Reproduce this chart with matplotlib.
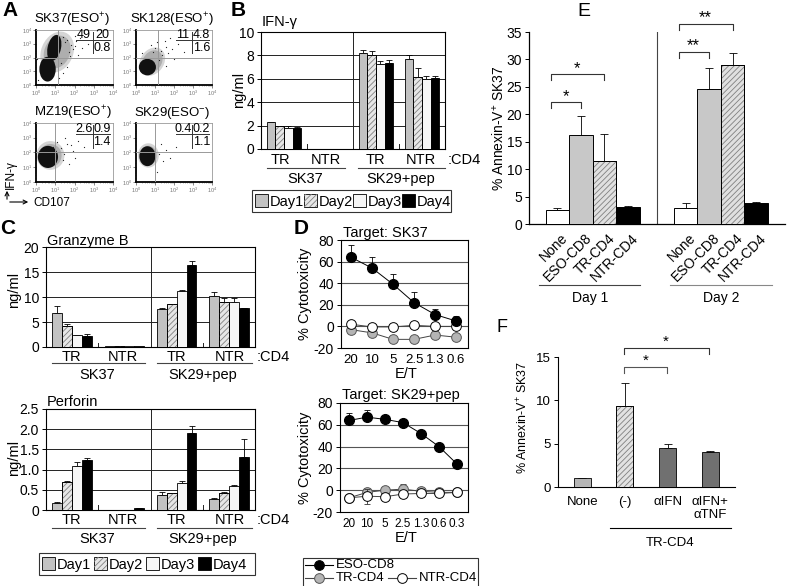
import matplotlib
matplotlib.use('Agg')
import matplotlib.pyplot as plt
from matplotlib.patches import Rectangle, Ellipse, FancyArrowPatch
from matplotlib.lines import Line2D

plt.rcParams['font.family'] = ['Liberation Sans', 'DejaVu Sans']
plt.rcParams['mathtext.fontset'] = 'custom'
plt.rcParams['mathtext.rm'] = 'Liberation Sans'
plt.rcParams['mathtext.it'] = 'Liberation Sans:italic'
plt.rcParams['mathtext.bf'] = 'Liberation Sans:bold'
plt.rcParams['hatch.linewidth'] = 0.6

# ---------------- data ----------------
# A: flow cytometry
flow_titles = ['SK37(ESO$^{+}$)', 'SK128(ESO$^{+}$)', 'MZ19(ESO$^{+}$)', 'SK29(ESO$^{-}$)']
flow_ul = ['49', '11', '2.6', '0.4']
flow_ur = ['20', '4.8', '0.9', '0.2']
flow_lr = ['0.8', '1.6', '1.4', '1.1']
flow_gate_x = [1.15, 1.15, 1.0, 1.0]
flow_gate_y = [2.0, 2.0, 2.0, 2.0]
flow_core = [
    [(0.6, 1.15, 0.85, 1.8, 0), (0.95, 2.7, 0.7, 1.9, -8)],
    [(0.6, 1.3, 0.9, 1.2, 0)],
    [(0.62, 1.7, 1.05, 1.5, 0)],
    [(0.6, 1.75, 0.85, 1.35, 0)],
]
flow_halo = [
    [(1.1, 2.4, 1.7, 3.0, -10)],
    [(0.85, 1.7, 1.3, 2.1, -15)],
    [(0.75, 1.8, 1.45, 1.95, 0)],
    [(0.65, 1.8, 1.1, 1.65, 0)],
]
flow_sparse_x = [
    [1.5, 1.8, 2.1, 1.4, 2.4, 1.7, 2.0, 1.3, 2.2, 1.6, 0.1, 0.05, 1.4, 2.7, 1.2, 1.9, 1.6, 2.3, 1.75, 2.05],
    [0.9, 1.0, 0.8, 1.3, 1.6, 1.9, 2.2, 1.5, 2.5, 1.2, 1.6, 2.0, 0.3, 1.1, 1.8, 1.35, 1.7],
    [1.3, 1.6, 1.9, 2.2, 1.4, 1.7, 1.1, 2.5, 0.2, 1.5, 2.0, 0.9, 1.45, 1.8],
    [1.2, 1.4, 1.6, 0.3, 1.8, 1.1, 2.1, 1.3],
]
flow_sparse_y = [
    [3.1, 2.9, 3.2, 3.5, 2.7, 2.4, 3.6, 1.6, 2.2, 1.3, 0.4, 1.9, 0.9, 3.0, 0.5, 2.6, 3.3, 3.4, 2.1, 2.85],
    [2.4, 2.7, 2.9, 2.5, 2.8, 2.6, 3.0, 3.2, 2.4, 1.8, 1.4, 1.9, 2.3, 3.1, 3.4, 2.2, 2.35],
    [2.3, 2.6, 2.1, 2.8, 1.5, 1.2, 2.7, 2.4, 2.2, 3.0, 1.6, 2.4, 1.9, 2.5],
    [1.9, 1.4, 2.2, 2.0, 1.6, 0.7, 2.4, 2.6],
]

# B/C: cytokine secretion, per day over groups [TR-SK37, NTR-SK37, TR-SK29+pep, NTR-SK29+pep]
day_labels = ['Day1', 'Day2', 'Day3', 'Day4']
cd4_groups = ['TR', 'NTR', 'TR', 'NTR']
target_labels = ['SK37', 'SK29+pep']
ifng_mean = [[2.3, 0, 8.2, 7.7], [1.95, 0, 8.0, 6.15], [1.8, 0, 7.25, 6.0], [1.8, 0, 7.35, 6.1]]
ifng_err = [[0.05, 0, 0.3, 0.3], [0.05, 0, 0.35, 0.75], [0.2, 0, 0.3, 0.25], [0.05, 0, 0.25, 0.1]]
gzmb_mean = [[6.8, 0.25, 7.6, 10.2], [4.2, 0.3, 8.6, 9.0], [2.4, 0.12, 11.2, 9.0], [2.2, 0.3, 16.4, 7.8]]
gzmb_err = [[1.4, 0, 0.2, 0.9], [0.5, 0, 0.1, 0.8], [0.05, 0, 0.15, 0.8], [0.4, 0, 0.8, 0.1]]
prf_mean = [[0.17, 0, 0.37, 0.27], [0.7, 0, 0.42, 0.42], [1.09, 0, 0.66, 0.59], [1.24, 0.05, 1.9, 1.31]]
prf_err = [[0.04, 0, 0.07, 0.02], [0.01, 0, 0.01, 0.02], [0.1, 0, 0.06, 0.03], [0.05, 0.01, 0.18, 0.44]]

# D: cytotoxicity
et_sk37 = ['20', '10', '5', '2.5', '1.3', '0.6']
cyt37_eso = [64, 54, 39, 22, 11, 5]
cyt37_eso_err = [11, 10, 9.5, 10, 5, 5]
cyt37_tr = [-3, -6, -12, -12, -8, -10]
cyt37_tr_err = [2, 3, 1, 1, 1, 1]
cyt37_ntr = [2, -0.5, -0.5, 1, 0, 0]
cyt37_ntr_err = [1, 1, 1, 1, 1, 1]
et_sk29 = ['20', '10', '5', '2.5', '1.3', '0.6', '0.3']
cyt29_eso = [64, 67, 65, 62, 52, 40, 24]
cyt29_eso_err = [7, 7, 1, 1, 1, 1, 1]
cyt29_tr = [-7, -2, 0, 1, -1, -2, -2]
cyt29_tr_err = [2, 4, 3, 5, 2, 2, 2]
cyt29_ntr = [-7, -5.5, -6, -3.5, -3, -3, -2]
cyt29_ntr_err = [3, 7, 2, 3, 2, 2, 2]

# E: annexin-V
e_groups = ['None', 'ESO-CD8', 'TR-CD4', 'NTR-CD4']
e_day1 = [2.55, 16.3, 11.4, 3.15]
e_day1_err = [0.3, 3.4, 5.0, 0.05]
e_day2 = [2.9, 24.7, 29.0, 3.9]
e_day2_err = [1.0, 3.8, 2.2, 0.1]

# F: blocking
f_labels = ['None', '(-)', 'αIFN', 'αIFN+\nαTNF']
f_vals = [1.04, 9.3, 4.5, 4.05]
f_err = [0.05, 2.65, 0.45, 0.1]

# ---------------- helpers ----------------
W, H = 787, 586
fig = plt.figure(figsize=(W / 100, H / 100), dpi=100)


def add_ax(x0, y0, x1, y1):
    return fig.add_axes([x0 / W, 1 - y1 / H, (x1 - x0) / W, (y1 - y0) / H])


def ftext(x, y, s, **kw):
    kw.setdefault('ha', 'center')
    kw.setdefault('va', 'center')
    fig.text(x / W, 1 - y / H, s, **kw)


def fline(xs, ys, **kw):
    kw.setdefault('color', 'black')
    kw.setdefault('lw', 0.8)
    fig.add_artist(Line2D([x / W for x in xs], [1 - y / H for y in ys], **kw))


DAY_FACE = ['#c2c2c2', '#e6e6e6', '#f6f6f6', '#000000']
DAY_HATCH = [None, '//////', None, None]


def bar(ax, x, h, w, face, hatch=None, err=None, capsize=2, lw=0.6):
    ax.bar(x, h, w, color=face, edgecolor='black', linewidth=lw, zorder=3)
    if hatch:
        ax.bar(x, h, w, color='none', edgecolor='#808080', hatch=hatch, linewidth=0, zorder=3.5)
        ax.bar(x, h, w, color='none', edgecolor='black', linewidth=lw, zorder=4)
    if err:
        ax.errorbar([x], [h], yerr=[[0], [err]], fmt='none', ecolor='black',
                    elinewidth=0.6, capsize=capsize, capthick=0.6, zorder=2.5)


def day_bar_axes(box, means, errs, ylim, yticks, yticklabels, grid):
    ax = add_ax(*box)
    ax.set_xlim(0, 4)
    ax.set_ylim(*ylim)
    ax.set_xticks([])
    ax.set_yticks(yticks)
    ax.set_yticklabels(yticklabels, fontsize=10)
    ax.tick_params(axis='y', length=3, width=0.7, pad=2)
    for g in grid:
        ax.axhline(g, color='#222222', lw=0.7, zorder=1)
    ax.axvline(2.0, color='#222222', lw=0.7, zorder=1)
    for b in (1.0, 3.0):
        ax.plot([b, b], [ylim[0], ylim[0] + (ylim[1] - ylim[0]) * 0.045], color='#222222', lw=0.7)
    for s in ax.spines.values():
        s.set_linewidth(0.8)
    centers = [0.5, 1.5, 2.5, 3.5]
    width = 0.19
    for d in range(4):
        for g in range(4):
            x = centers[g] + (d - 1.5) * width
            if means[d][g] > 0:
                bar(ax, x, means[d][g], width, DAY_FACE[d], DAY_HATCH[d], errs[d][g])
    return ax


def group_labels(xs, y_row, line_spans, y_line, tgt_xs, y_tgt, cd4_x):
    for x, lab in zip(xs, cd4_groups):
        ftext(x, y_row, lab, fontsize=10.5)
    ftext(cd4_x, y_row, ':CD4', fontsize=10.5, ha='left')
    for (a, b) in line_spans:
        fline([a, b], [y_line, y_line], lw=0.8, color='#444444')
    for x, lab in zip(tgt_xs, target_labels):
        ftext(x, y_tgt, lab, fontsize=10.5)


def day_legend(x0, y0, spacing, right, hgt=22):
    fig.add_artist(Rectangle((x0 / W, 1 - (y0 + hgt) / H), (right - x0) / W, hgt / H,
                             transform=fig.transFigure, facecolor='white', edgecolor='#333333', lw=0.8))
    for d in range(4):
        hx = x0 + 3 + d * spacing
        hy = y0 + 4
        fig.add_artist(Rectangle((hx / W, 1 - (hy + 13) / H), 13 / W, 13 / H, transform=fig.transFigure,
                                 facecolor=DAY_FACE[d], edgecolor='black', lw=0.6))
        if DAY_HATCH[d]:
            fig.add_artist(Rectangle((hx / W, 1 - (hy + 13) / H), 13 / W, 13 / H, transform=fig.transFigure,
                                     facecolor='none', edgecolor='#808080', lw=0, hatch=DAY_HATCH[d]))
        ftext(hx + 15, y0 + hgt / 2 + 1, day_labels[d], fontsize=10.5, ha='left')


# ---------------- panel letters ----------------
ftext(10, 11, 'A', fontsize=15, fontweight='bold')
ftext(238, 11, 'B', fontsize=15, fontweight='bold')
ftext(8, 229, 'C', fontsize=15, fontweight='bold')
ftext(301, 229, 'D', fontsize=15, fontweight='bold')
ftext(584, 11, 'E', fontsize=14)
ftext(502, 328, 'F', fontsize=13)

# ---------------- A ----------------
flow_boxes = [(36, 30, 113, 85), (136, 30, 212, 85), (36, 123, 113, 182), (136, 123, 212, 182)]
for i, box in enumerate(flow_boxes):
    ax = add_ax(*box)
    ax.set_xlim(0, 4)
    ax.set_ylim(0, 4)
    for (cx, cy, w, h, ang) in flow_halo[i]:
        ax.add_patch(Ellipse((cx, cy), w, h, angle=ang, facecolor='#777777', edgecolor='none', alpha=0.3, zorder=1))
        ax.add_patch(Ellipse((cx, cy), w * 0.8, h * 0.8, angle=ang, facecolor='#555555', edgecolor='none',
                             alpha=0.3, zorder=1))
    for (cx, cy, w, h, ang) in flow_core[i]:
        ax.add_patch(Ellipse((cx, cy), w, h, angle=ang, facecolor='#111111', edgecolor='none', zorder=2))
    ax.scatter(flow_sparse_x[i], flow_sparse_y[i], s=0.8, color='#222222', zorder=2, linewidths=0)
    ax.axvline(flow_gate_x[i], color='#999999', lw=0.7, zorder=3)
    ax.axhline(flow_gate_y[i], color='#999999', lw=0.7, zorder=3)
    ticks = [0, 1, 2, 3, 4]
    labs = ['$10^{%d}$' % t for t in ticks]
    ax.set_xticks(ticks)
    ax.set_xticklabels(labs, fontsize=4, color='#777777')
    ax.set_yticks(ticks)
    ax.set_yticklabels(labs, fontsize=4, color='#777777')
    minor = [k + m for k in range(4) for m in (0.301, 0.477, 0.602, 0.699, 0.778, 0.845, 0.903, 0.954)]
    ax.set_xticks(minor, minor=True)
    ax.set_yticks(minor, minor=True)
    ax.tick_params(which='major', length=2, width=0.5, pad=1, color='#555555')
    ax.tick_params(which='minor', length=1, width=0.4, color='#777777')
    ax.spines['left'].set_linewidth(1.3)
    ax.spines['bottom'].set_linewidth(1.3)
    ax.spines['top'].set_color('#999999')
    ax.spines['right'].set_color('#999999')
    ax.spines['top'].set_linewidth(0.6)
    ax.spines['right'].set_linewidth(0.6)
    # percent annotation
    ax.plot([0.52, 0.96], [0.82, 0.82], transform=ax.transAxes, color='#333333', lw=0.7, zorder=4)
    ax.plot([0.74, 0.74], [0.97, 0.58], transform=ax.transAxes, color='#333333', lw=0.7, zorder=4)
    ax.text(0.62, 0.9, flow_ul[i], transform=ax.transAxes, fontsize=9, ha='center', va='center', zorder=5)
    ax.text(0.86, 0.9, flow_ur[i], transform=ax.transAxes, fontsize=9, ha='center', va='center', zorder=5)
    ax.text(0.86, 0.68, flow_lr[i], transform=ax.transAxes, fontsize=9, ha='center', va='center', zorder=5)
    tx = (box[0] + box[2]) / 2 - 2
    ftext(tx, box[1] - 10, flow_titles[i], fontsize=9.5)

# axis arrows
fig.add_artist(FancyArrowPatch((7 / W, 1 - 202 / H), (7 / W, 1 - 188 / H),
                               transform=fig.transFigure, arrowstyle='->', mutation_scale=7, lw=0.8))
fig.add_artist(FancyArrowPatch((7 / W, 1 - 202 / H), (31 / W, 1 - 202 / H),
                               transform=fig.transFigure, arrowstyle='->', mutation_scale=7, lw=0.8))
ftext(11, 175, 'IFN-γ', fontsize=8.5, rotation=90)
ftext(33, 203, 'CD107', fontsize=8.5, ha='left')

# ---------------- B ----------------
axB = day_bar_axes((261, 32, 445, 149), ifng_mean, ifng_err, (0, 10), [0, 2, 4, 6, 8, 10],
                   ['0', '2', '4', '6', '8', '10'], [2, 4, 6, 8])
ftext(262, 22, 'IFN-γ', fontsize=10.5, ha='left')
ftext(239, 90, 'ng/ml', fontsize=10.5, rotation=90)
group_labels([280, 326, 375, 421], 160, [(267, 345), (358, 445)], 168, [305, 401], 179, 448)
day_legend(252, 190, 49, 451)

# ---------------- C ----------------
axC1 = day_bar_axes((46, 247, 255, 347), gzmb_mean, gzmb_err, (0, 20), [0, 5, 10, 15, 20],
                    ['0', '5', '10', '15', '20'], [5, 10, 15])
ftext(47, 241, 'Granzyme B', fontsize=10.5, ha='left')
ftext(14, 290, 'ng/ml', fontsize=10.5, rotation=90)
group_labels([71, 123, 176, 230], 357, [(52, 145), (157, 252)], 363, [97, 203], 375, 257)

axC2 = day_bar_axes((46, 409, 255, 510), prf_mean, prf_err, (0, 2.5), [0, 0.5, 1.0, 1.5, 2.0, 2.5],
                    ['0', '0.5', '1.0', '1.5', '2.0', '2.5'], [0.5, 1.0, 1.5, 2.0])
ftext(47, 402, 'Perforin', fontsize=10.5, ha='left')
ftext(14, 458, 'ng/ml', fontsize=10.5, rotation=90)
group_labels([71, 123, 176, 230], 520, [(52, 145), (157, 252)], 528, [97, 203], 539, 257)
day_legend(39, 553, 52, 255)


# ---------------- D ----------------
def cyt_axes(box, labels, eso, eso_err, tr, tr_err, ntr, ntr_err, xlim, title, title_y, xfs):
    ax = add_ax(*box)
    xs = list(range(len(labels)))
    ax.set_xlim(*xlim)
    ax.set_ylim(-20, 80)
    ax.set_yticks([-20, 0, 20, 40, 60, 80])
    ax.set_yticklabels(['-20', '0', '20', '40', '60', '80'], fontsize=10)
    ax.set_xticks(xs)
    ax.set_xticklabels(labels, fontsize=xfs)
    ax.tick_params(axis='x', length=0, pad=4)
    ax.tick_params(axis='y', length=3, width=0.7, pad=2)
    for g in (0, 20, 40, 60):
        ax.axhline(g, color='#555555', lw=0.8, zorder=1)
    for s in ax.spines.values():
        s.set_linewidth(0.8)
    ax.errorbar(xs, tr, yerr=tr_err, fmt='none', ecolor='#333333', elinewidth=0.6, capsize=2, capthick=0.6, zorder=2)
    ax.plot(xs, tr, '-o', color='#444444', lw=0.7, ms=7, mfc='#b4b4b4', mec='#555555', mew=0.7, zorder=3)
    ax.errorbar(xs, ntr, yerr=ntr_err, fmt='none', ecolor='#333333', elinewidth=0.6, capsize=2, capthick=0.6, zorder=4)
    ax.plot(xs, ntr, '-o', color='#444444', lw=0.7, ms=7, mfc='white', mec='black', mew=0.7, zorder=5)
    ax.errorbar(xs, eso, yerr=[[0] * len(eso), eso_err], fmt='none', ecolor='black', elinewidth=0.6, capsize=2,
                capthick=0.6, zorder=6)
    ax.plot(xs, eso, '-o', color='black', lw=0.7, ms=7, mfc='black', mec='black', zorder=7)
    ftext(box[0] + 2, title_y, title, fontsize=10.5, ha='left')
    ftext(305, (box[1] + box[3]) / 2, '% Cytotoxicity', fontsize=10.5, rotation=90)
    ftext((box[0] + box[2]) / 2 + 2, box[3] + 26, 'E/T', fontsize=10.5)
    return ax


cyt_axes((341, 240, 468, 348), et_sk37, cyt37_eso, cyt37_eso_err, cyt37_tr, cyt37_tr_err,
         cyt37_ntr, cyt37_ntr_err, (-0.48, 5.57), 'Target: SK37', 233, 9.5)
cyt_axes((340, 403, 468, 512), et_sk29, cyt29_eso, cyt29_eso_err, cyt29_tr, cyt29_tr_err,
         cyt29_ntr, cyt29_ntr_err, (-0.5, 6.61), 'Target: SK29+pep', 395, 8.5)

# D legend
fig.add_artist(Rectangle((303 / W, 1 - 592 / H), (478 - 303) / W, 34 / H, transform=fig.transFigure,
                         facecolor='white', edgecolor='#333333', lw=0.8))
leg_rows = [(565, 305, 'ESO-CD8', 'black', 'black', 'black'),
            (578, 305, 'TR-CD4', '#b4b4b4', '#555555', '#444444'),
            (578, 388, 'NTR-CD4', 'white', 'black', '#444444')]
for (yy, xx, lab, mfc, mec, lc) in leg_rows:
    fline([xx, xx + 28], [yy, yy], color=lc, lw=0.8)
    fig.add_artist(Line2D([(xx + 14) / W], [1 - yy / H], marker='o', ms=7, mfc=mfc, mec=mec, mew=0.7,
                          transform=fig.transFigure))
    ftext(xx + 31, yy, lab, fontsize=9.5, ha='left')

# ---------------- E ----------------
axE = add_ax(529, 32, 785, 224)
axE.set_xlim(-1.21, 9.68)
axE.set_ylim(0, 35)
axE.set_yticks([0, 5, 10, 15, 20, 25, 30, 35])
axE.set_yticklabels(['0', '5', '10', '15', '20', '25', '30', '35'], fontsize=10)
axE.set_xticks([])
axE.spines['top'].set_visible(False)
axE.spines['right'].set_visible(False)
axE.spines['left'].set_linewidth(0.9)
axE.spines['bottom'].set_linewidth(0.9)
axE.tick_params(axis='y', length=3, width=0.7, pad=2)
axE.axvline(4.23, color='#444444', lw=0.8)
E_FACE = ['white', '#c8c8c8', '#e0e0e0', 'black']
E_HATCH = [None, None, '//////', None]
pos1 = [0, 1, 2, 3]
pos2 = [5.45, 6.45, 7.45, 8.45]
for k in range(4):
    bar(axE, pos1[k], e_day1[k], 1.0, E_FACE[k], E_HATCH[k], e_day1_err[k], capsize=3, lw=0.7)
    bar(axE, pos2[k], e_day2[k], 1.0, E_FACE[k], E_HATCH[k], e_day2_err[k], capsize=3, lw=0.7)
    for p in (pos1[k], pos2[k]):
        axE.text(p + 0.36, -2.2, e_groups[k], rotation=45, rotation_mode='anchor', ha='right', va='center',
                 fontsize=10, clip_on=False)


def bracket(ax, x1, x2, y, drop, star, ystar, color='#333333', fs=12):
    ax.plot([x1, x1, x2, x2], [y - drop, y, y, y - drop], color=color, lw=0.8, clip_on=False)
    ax.text((x1 + x2) / 2, ystar, star, ha='center', va='center', fontsize=fs, clip_on=False)


bracket(axE, -0.28, 1.0, 22.2, 1.1, '*', 23.3)
bracket(axE, -0.28, 1.98, 27.3, 1.1, '*', 28.4)
bracket(axE, 5.15, 6.43, 31.4, 1.1, '**', 32.5)
bracket(axE, 5.15, 7.45, 36.5, 1.1, '**', 37.6)
fline([539, 640], [285, 285], color='#444444')
fline([670, 772], [285, 285], color='#888888')
ftext(590, 298, 'Day 1', fontsize=10)
ftext(721, 298, 'Day 2', fontsize=10)
ftext(499, 128, '% Annexin-V$^{+}$ SK37', fontsize=10, rotation=90)

# ---------------- F ----------------
axF = add_ax(558, 357, 735, 487)
axF.set_xlim(-0.57, 3.58)
axF.set_ylim(0, 15)
axF.set_yticks([0, 5, 10, 15])
axF.set_yticklabels(['0', '5', '10', '15'], fontsize=9.5)
axF.set_xticks([])
axF.spines['top'].set_visible(False)
axF.spines['right'].set_visible(False)
axF.spines['left'].set_linewidth(0.8)
axF.spines['bottom'].set_linewidth(0.8)
axF.tick_params(axis='y', length=3, width=0.7, pad=2)
F_FACE = ['#b5b5b5', '#e2e2e2', '#707070', '#707070']
F_HATCH = [None, '//////', None, None]
for k in range(4):
    bar(axF, k, f_vals[k], 0.4, F_FACE[k], F_HATCH[k], f_err[k], capsize=3, lw=0.6)
    axF.text(k, -1.0, f_labels[k], ha='center', va='top', fontsize=9.5, clip_on=False, linespacing=1.2)
bracket(axF, 0.97, 1.98, 13.85, 0.7, '*', 14.55, color='#555555', fs=11)
bracket(axF, 0.97, 2.96, 16.04, 0.7, '*', 16.8, color='#333333', fs=11)
fline([610, 731], [528, 528])
ftext(670, 543, 'TR-CD4', fontsize=9.5)
ftext(523, 417, '% Annexin-V$^{+}$ SK37', fontsize=9, rotation=90)

fig.savefig('out.png', dpi=100)
